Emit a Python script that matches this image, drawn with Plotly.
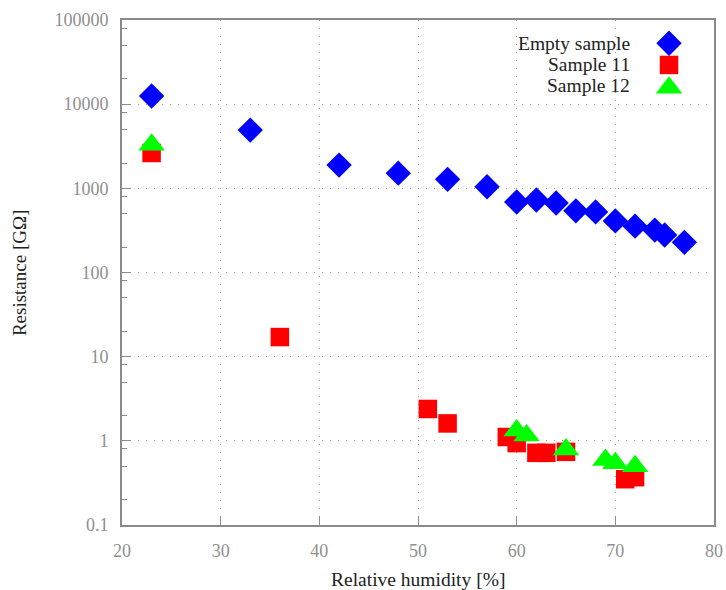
import plotly.graph_objects as go

# ---- data ----
humidity_empty = [23, 33, 42, 48, 53, 57, 60, 62, 64, 66, 68, 70, 72, 74, 75, 77]
resistance_empty = [12500, 4920, 1890, 1515, 1280, 1045, 688, 727, 670, 540, 525, 410, 355, 319, 279, 228]

humidity_s11 = [23, 36, 51, 53, 59, 60, 62, 63, 65, 71, 72]
resistance_s11 = [2630, 17.1, 2.39, 1.61, 1.11, 0.94, 0.72, 0.72, 0.74, 0.35, 0.37]

humidity_s12 = [23, 60, 61, 65, 69, 70, 72]
resistance_s12 = [3300, 1.33, 1.16, 0.79, 0.59, 0.54, 0.50]

series_names = ["Empty sample", "Sample 11", "Sample 12"]
series_colors = ["#0000ff", "#ff0000", "#00ff00"]
series_symbols = ["diamond", "square", "triangle-up"]
series_sizes = [19.5, 18.5, 23]

x_tick_vals = [20, 30, 40, 50, 60, 70, 80]
y_tick_vals = [0.1, 1, 10, 100, 1000, 10000, 100000]
y_tick_text = ["0.1", "1", "10", "100", "1000", "10000", "100000"]
y_minor_vals = [m * 10 ** e for e in range(-1, 5) for m in (2, 5, 8)]

FONT = "Liberation Serif"
AXIS_GRAY = "#8a8a8a"
LABEL_GRAY = "#8f8f8f"
TEXT = "#222222"

fig = go.Figure()

data_x = [humidity_empty, humidity_s11, humidity_s12]
data_y = [resistance_empty, resistance_s11, resistance_s12]
for name, xs, ys, col, sym, sz in zip(series_names, data_x, data_y,
                                       series_colors, series_symbols, series_sizes):
    fig.add_trace(go.Scatter(
        x=xs, y=ys, mode="markers", name=name, showlegend=False,
        marker=dict(symbol=sym, color=col, size=sz, line=dict(width=0)),
        hoverinfo="skip"))

# ---- custom legend (text right-aligned, symbol on the right) ----
legend_rows_y = [0.954, 0.911, 0.866]
legend_text_y = [0.954, 0.911, 0.871]
for name, col, sym, sz, ly, ty in zip(series_names, series_colors, series_symbols,
                                      series_sizes, legend_rows_y, legend_text_y):
    fig.add_trace(go.Scatter(
        x=[0.924], y=[ly], xaxis="x2", yaxis="y2", mode="markers",
        showlegend=False, hoverinfo="skip",
        marker=dict(symbol=sym, color=col, size=sz, line=dict(width=0))))
    fig.add_annotation(text=name, xref="paper", yref="paper", x=0.862, y=ty,
                       xanchor="right", yanchor="middle", showarrow=False,
                       font=dict(family=FONT, size=19.5, color=TEXT))

# axis titles
fig.add_annotation(text="Relative humidity [%]", xref="paper", yref="paper",
                   x=0.5, y=-0.107, xanchor="center", yanchor="middle",
                   showarrow=False, font=dict(family=FONT, size=19.5, color=TEXT))
fig.add_annotation(text="Resistance [GΩ]", xref="paper", yref="paper",
                   x=-0.173, y=0.5, xanchor="center", yanchor="middle",
                   textangle=-90, showarrow=False,
                   font=dict(family=FONT, size=19, color=TEXT))

fig.update_layout(
    width=726, height=590,
    margin=dict(l=122, r=3, t=20, b=65),
    plot_bgcolor="white", paper_bgcolor="white",
    font=dict(family=FONT, size=18, color=LABEL_GRAY),
    xaxis=dict(
        range=[20, 80], tickmode="array", tickvals=x_tick_vals,
        ticks="inside", ticklen=9, tickwidth=1, tickcolor=AXIS_GRAY,
        showline=True, linecolor=AXIS_GRAY, linewidth=2, mirror=True,
        showgrid=True, gridcolor="#a0a0a0", gridwidth=1, griddash="1px,7px",
        zeroline=False, ticklabelstandoff=8, ticklabeloverflow="allow",
        tickfont=dict(family=FONT, size=18, color=LABEL_GRAY),
    ),
    yaxis=dict(
        type="log", range=[-1, 5], tickmode="array",
        tickvals=y_tick_vals, ticktext=y_tick_text,
        ticks="inside", ticklen=9, tickwidth=1, tickcolor=AXIS_GRAY,
        minor=dict(tickmode="array", tickvals=y_minor_vals, ticks="inside",
                   ticklen=5, tickwidth=1, tickcolor=AXIS_GRAY, showgrid=False),
        showline=True, linecolor=AXIS_GRAY, linewidth=2, mirror=True,
        showgrid=True, gridcolor="#a0a0a0", gridwidth=1, griddash="1px,7px",
        zeroline=False, ticklabelstandoff=8, ticklabeloverflow="allow",
        tickfont=dict(family=FONT, size=18, color=LABEL_GRAY),
    ),
    xaxis2=dict(overlaying="x", range=[0, 1], visible=False, anchor="y2"),
    yaxis2=dict(overlaying="y", range=[0, 1], visible=False, anchor="x2"),
)

fig.write_html("out.html")
